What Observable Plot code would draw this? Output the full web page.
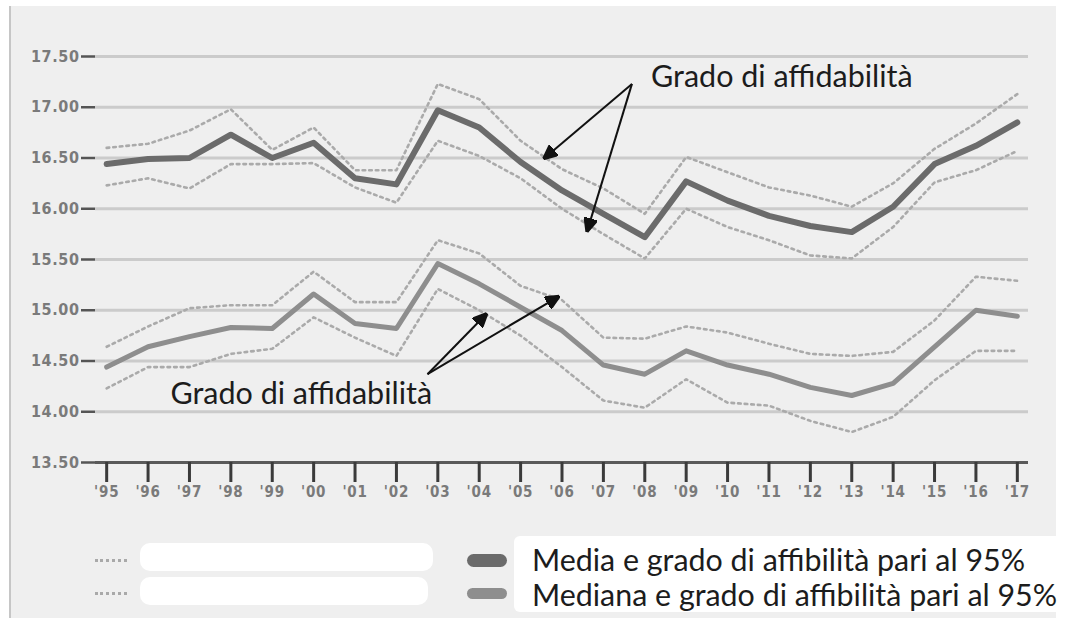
<!DOCTYPE html>
<html>
<head>
<meta charset="utf-8">
<script src="https://cdn.jsdelivr.net/npm/d3@7"></script>
<script src="https://cdn.jsdelivr.net/npm/@observablehq/plot@0.6"></script>
<style>
  body { margin: 0; width: 1065px; height: 618px; overflow: hidden; position: relative; background: #fff; font-family: Lato, sans-serif; }
  #panel { position: absolute; left: 9px; top: 6px; width: 1045px; height: 612px; background: #efefef; border-left: 2px solid #c6c6c6; }
  #chart { position: absolute; left: 0; top: 0; }
  #chart g[aria-label="y-axis tick label"] text { letter-spacing: 0.6px; }
  #chart g[aria-label="x-axis tick label"] text { letter-spacing: 0.8px; }
  .blot { position: absolute; background: #fff; border-radius: 10px; }
  .dots { position: absolute; left: 95px; width: 32px; border-top: 3px dotted #a9a9a9; }
  .swatch { position: absolute; left: 467px; width: 40px; border-radius: 7px; }
  .legend-text { position: absolute; left: 532px; font-family: Lato, sans-serif; font-size: 30.4px; color: #1c1c1c; white-space: nowrap; line-height: 1; }
</style>
</head>
<body>
<div id="panel"></div>
<div id="chart"></div>

<!-- legend -->
<div class="dots" style="top:559px"></div>
<div class="dots" style="top:592px"></div>
<div class="blot" style="left:140px;top:543px;width:293px;height:28px"></div>
<div class="blot" style="left:140px;top:577px;width:288px;height:28px"></div>
<div class="swatch" style="top:554px;height:13px;background:#6b6b6b"></div>
<div class="swatch" style="top:588px;height:11px;background:#8e8e8e"></div>
<div class="blot" style="left:514px;top:536px;width:551px;height:76px;border-radius:6px"></div>
<div class="legend-text" style="top:544px">Media e grado di affibilità pari al 95%</div>
<div class="legend-text" style="top:579px">Mediana e grado di affibilità pari al 95%</div>

<script>
// Years on the x axis and their short labels
const years = [1995, 1996, 1997, 1998, 1999, 2000, 2001, 2002, 2003, 2004, 2005, 2006,
               2007, 2008, 2009, 2010, 2011, 2012, 2013, 2014, 2015, 2016, 2017];
const yearLabels = ["'95", "'96", "'97", "'98", "'99", "'00", "'01", "'02", "'03", "'04", "'05", "'06",
                    "'07", "'08", "'09", "'10", "'11", "'12", "'13", "'14", "'15", "'16", "'17"];
const yTicks = [13.5, 14, 14.5, 15, 15.5, 16, 16.5, 17, 17.5];

// Media with its 95% band
const media      = [16.44, 16.49, 16.50, 16.73, 16.50, 16.65, 16.30, 16.24, 16.97, 16.80, 16.46, 16.18,
                    15.95, 15.72, 16.27, 16.08, 15.93, 15.83, 15.77, 16.02, 16.44, 16.62, 16.85];
const mediaUpper = [16.60, 16.64, 16.77, 16.98, 16.58, 16.80, 16.38, 16.38, 17.23, 17.08, 16.67, 16.39,
                    16.20, 15.95, 16.51, 16.36, 16.21, 16.13, 16.02, 16.25, 16.59, 16.84, 17.13];
const mediaLower = [16.23, 16.30, 16.20, 16.44, 16.44, 16.45, 16.21, 16.06, 16.67, 16.52, 16.30, 16.00,
                    15.75, 15.51, 16.00, 15.82, 15.69, 15.54, 15.51, 15.82, 16.26, 16.38, 16.57];

// Mediana with its 95% band
const mediana      = [14.44, 14.64, 14.74, 14.83, 14.82, 15.16, 14.87, 14.82, 15.46, 15.26, 15.03, 14.80,
                      14.46, 14.37, 14.60, 14.46, 14.37, 14.24, 14.16, 14.28, 14.64, 15.00, 14.94];
const medianaUpper = [14.64, 14.84, 15.02, 15.05, 15.05, 15.38, 15.08, 15.08, 15.69, 15.56, 15.24, 15.10,
                      14.73, 14.72, 14.84, 14.78, 14.67, 14.57, 14.55, 14.59, 14.90, 15.33, 15.29];
const medianaLower = [14.23, 14.44, 14.44, 14.57, 14.62, 14.93, 14.73, 14.55, 15.21, 15.00, 14.75, 14.44,
                      14.11, 14.04, 14.32, 14.09, 14.06, 13.91, 13.80, 13.95, 14.31, 14.60, 14.60];

// Annotation callouts, in data units (year, value)
const noteLabels = [
  {x: 2008.15, y: 17.20, text: "Grado di affidabilità"},
  {x: 1996.54, y: 14.08, text: "Grado di affidabilità"}
];
const noteArrows = [
  {x1: 2007.69, y1: 17.23, x2: 2005.55, y2: 16.49},
  {x1: 2007.69, y1: 17.23, x2: 2006.60, y2: 15.77},
  {x1: 2002.75, y1: 14.37, x2: 2004.19, y2: 14.97},
  {x1: 2002.75, y1: 14.37, x2: 2005.94, y2: 15.14}
];

const toRows = (values, series) => years.map((year, i) => ({year, value: values[i], series}));
const bands = [
  ...toRows(mediaUpper, "mediaUpper"), ...toRows(mediaLower, "mediaLower"),
  ...toRows(medianaUpper, "medianaUpper"), ...toRows(medianaLower, "medianaLower")
];

// Filled triangular arrow head
function solidHead(color) {
  const m = d3.create("svg:marker")
    .attr("viewBox", "-10 -5 10 10")
    .attr("markerWidth", 7)
    .attr("markerHeight", 7)
    .attr("orient", "auto");
  m.append("path").attr("fill", color).attr("d", "M-10,-4.5L0,0L-10,4.5Z");
  return m.node();
}

const axisFont = "'DejaVu Sans Condensed', 'Liberation Sans Narrow', 'DejaVu Sans', sans-serif";

const chart = Plot.plot({
  width: 1065,
  height: 520,
  marginTop: 56,
  marginBottom: 58,
  marginLeft: 95,
  marginRight: 37,
  style: {background: "transparent", overflow: "visible"},
  x: {domain: [1994.73, 2017.27]},
  y: {domain: [13.5, 17.5]},
  marks: [
    Plot.ruleY(yTicks.slice(1), {stroke: "#cbcbcb", strokeWidth: 3}),
    Plot.ruleY([13.5], {stroke: "#5a5a5a", strokeWidth: 3}),
    Plot.axisY({
      ticks: yTicks, tickFormat: d => d.toFixed(2), tickSize: 14, tickPadding: 2,
      stroke: "#555", strokeWidth: 2.5, fill: "#7a7a7a", fontSize: 16, fontWeight: "bold", fontFamily: axisFont, label: null
    }),
    Plot.axisX({
      ticks: years, tickFormat: (d, i) => yearLabels[i], tickSize: 20, tickPadding: 4,
      stroke: "#3a3a3a", strokeWidth: 3, fill: "#7a7a7a", fontSize: 15, fontWeight: "bold", fontFamily: axisFont, label: null
    }),
    Plot.line(bands, {x: "year", y: "value", z: "series", stroke: "#aaaaaa", strokeWidth: 2.6, strokeDasharray: "2.6,4"}),
    Plot.line(toRows(mediana, "mediana"), {x: "year", y: "value", stroke: "#8e8e8e", strokeWidth: 5, strokeLinejoin: "round", strokeLinecap: "round"}),
    Plot.line(toRows(media, "media"), {x: "year", y: "value", stroke: "#6b6b6b", strokeWidth: 6, strokeLinejoin: "round", strokeLinecap: "round"}),
    Plot.link(noteArrows, {x1: "x1", y1: "y1", x2: "x2", y2: "y2", stroke: "#111", strokeWidth: 2, markerEnd: solidHead}),
    Plot.text(noteLabels, {x: "x", y: "y", text: "text", textAnchor: "start", lineAnchor: "bottom", fontFamily: "Lato, sans-serif", fontSize: 30.5, fill: "#1c1c1c"})
  ]
});

document.getElementById("chart").appendChild(chart);
</script>
</body>
</html>
